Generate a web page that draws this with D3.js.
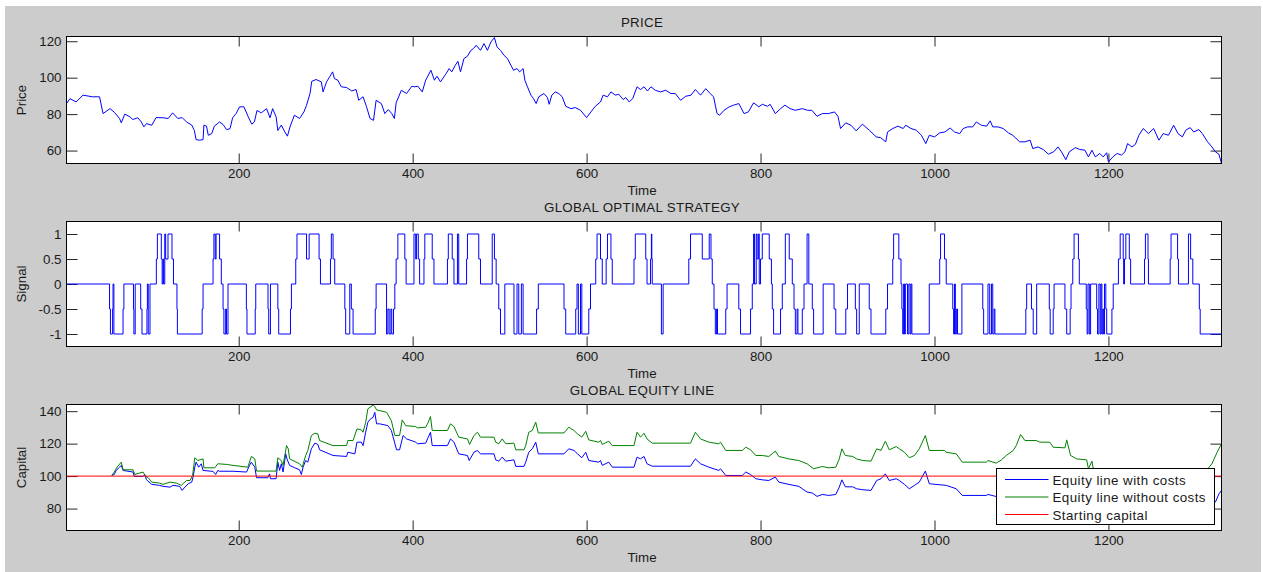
<!DOCTYPE html>
<html>
<head>
<meta charset="utf-8">
<script src="https://cdn.jsdelivr.net/npm/d3@7"></script>
<style>
  body { margin: 0; background: #fff; }
  text { font-family: "Liberation Sans", Arial, Helvetica, sans-serif; font-size: 13.33px; fill: #1a1a1a; }
</style>
</head>
<body>
<script>
const Width = 1263;
const Height = 572;

// tick values
const timeTicks = [200, 400, 600, 800, 1000, 1200];
const priceTicks = [60, 80, 100, 120];
const signalTicks = [-1, -0.5, 0, 0.5, 1];
const capitalTicks = [80, 100, 120, 140];

const legendLabels = ["Equity line with costs", "Equity line without costs", "Starting capital"];
const startingCapital = 100;

// price, [time, value]
const priceData = [
  [2,85.8],[6,88.5],[13,86.7],[21,90.4],[32,89.5],[40,89.5],[44,80.3],[52,83],[57,81],[63,77.6],[65,75.2],[69,80],
  [75,78.5],[78,77],[84,78],[88,75.7],[91,73],[94,74.8],[100,73.9],[105,78.1],[113,78],[119,77.6],[124,80.7],[130,77.6],
  [135,78.1],[140,75.7],[146,74],[149,71],[151,66],[155,65.7],[159,66],[160,74],[163,73.4],[165,68.4],[169,69.3],[172,73.4],
  [178,75.7],[182,74.3],[186,71.5],[190,72],[193,78],[197,80.3],[201,84],[206,84],[211,78.5],[215,74.5],[218,75.7],[221,82],
  [226,80.7],[232,83],[236,78],[239,83],[243,78.5],[245,71],[249,74],[253,70.2],[256,67.9],[259,73],[264,79.4],[270,77.6],
  [275,81.2],[278,84.9],[282,91.3],[284,98],[289,99],[295,97.7],[297,92.2],[301,97.7],[305,100.8],[308,103.2],[310,99.5],
  [314,98.6],[318,95],[324,94.6],[330,92.7],[335,93.5],[338,87.6],[343,89.5],[347,84],[351,77.6],[355,76.6],[358,87.6],
  [364,85.8],[368,80.3],[372,82.5],[376,80.3],[379,77.6],[381,86.2],[387,93.1],[393,91.3],[399,95.3],
  [402,95],[406,95.3],[411,92.2],[415,98.6],[421,104.1],[425,98.6],[428,100.8],[432,97.7],[438,101.9],[442,105],[445,103.2],
  [449,106.8],[452,109],[455,103.2],[459,110.5],[463,111.8],[467,115],[470,116],[473,117.8],[478,115],[482,118.7],[486,115],
  [490,119.6],[494,122],[497,116.9],[501,115],[505,112.3],[509,110.5],[513,106.8],[516,104.1],[520,105],[523,103.2],[527,105],
  [529,98.6],[532,95],[536,90.4],[539,88.5],[542,85.8],[545,89.5],[551,91.3],[555,89.1],[557,85.4],[560,90.4],[564,92.2],
  [568,91.3],[572,89.5],[576,84.3],[582,83],[587,83.6],[593,82.1],[600,78.1],[605,81.2],[610,84.3],[616,86.7],[619,90.4],
  [624,89.5],[628,92.2],[633,90.4],[637,90.9],[642,88],[645,89.1],[649,86.7],[653,88.5],[658,95],[662,93.5],[666,95],
  [670,92.7],[674,95],[679,93.1],[685,92.2],[691,93.1],[697,91.3],[702,91.3],[708,87.6],[714,89.8],[720,90.4],[725,93.5],
  [731,90.4],[737,94],[742,91.3],[746,89.5],[750,80.3],[753,79.4],[758,82.1],[764,84],[769,84.9],[775,85.8],[781,80.3],
  [786,81.2],[792,86.2],[798,84],[802,85.4],[808,84.3],[811,85.4],[817,80.3],[823,83],[828,84.9],[834,83],[840,82.1],
  [848,83],[854,82.1],[859,82.1],[865,78.8],[871,80.3],
  [878,80.3],[885,81.2],[889,78.8],[892,72.1],[898,75.2],[904,73.9],[910,70.8],[917,74.5],[925,71.2],[933,67.5],[938,67.1],
  [944,64.8],[946,70.2],[952,72.1],[958,73.4],[964,72.1],[967,73.9],[973,72.1],[979,71.2],[985,68.4],[990,63.8],[994,68.4],
  [1000,67.5],[1006,69.7],[1012,70.2],[1018,72.4],[1023,70.2],[1029,69.3],[1033,72.1],[1038,73],[1044,73],[1048,75.7],
  [1054,73.9],[1060,73.4],[1064,76.3],[1067,73],[1073,73],[1079,72.1],[1085,69.7],[1090,68.4],[1098,64.8],[1104,64.8],
  [1110,65.7],[1113,61.1],[1119,62],[1125,60.6],[1131,58],[1137,59.3],[1142,62],[1146,59.3],[1151,55],[1155,59.3],
  [1162,61.6],[1167,60.6],[1173,60.2],[1177,56.5],[1181,60.2],[1185,56.5],[1190,58.4],[1194,56.5],[1198,58.8],[1200,53.8],
  [1205,56.5],[1210,58.4],[1215,57.5],[1219,59.3],[1222,63.8],[1227,62],[1231,63.4],[1235,68.4],[1240,72.1],[1246,69.3],
  [1252,72.1],[1258,65.7],[1263,69.3],[1269,68.4],[1275,73.9],[1280,69.3],[1285,67.5],[1289,71.2],[1294,72.6],[1298,70.2],
  [1304,71.5],[1308,69.3],[1314,64.8],[1319,62],[1323,59.3],[1327,58],[1330,53]
];

// signal, [time, level] change points (step after)
const signalSteps = [
  [1,0],[51.5,-0.5],[52.5,-1],[55,-0.5],[55.5,0],[56.5,-1],[67,-0.5],[68,0],[79,-0.5],[79.5,-1],[81,0],[87.3,-0.5],[88.8,-1],
  [94.5,-0.5],[95,0],[96,-1],[98,0],[105.3,0.5],[106.5,1],[111,0.5],[112,0],[113,0.5],[113.7,0],[115,1],[116,0.5],[118.7,1],
  [123.3,0.5],[125,0],[129,-0.5],[129.5,-1],[158,-0.5],[159,0],[170.5,0.5],[171.5,1],[173,0.5],[174,1],[178,0.5],[180,0],
  [182,-0.5],[183,-1],[185,-0.5],[186,-1],[187.7,0],[208.8,-0.5],[209.5,-1],[219,-0.5],[219.6,0],[233.7,-0.5],[234.5,-1],
  [236.5,0],[245,-0.5],[246,-1],[259.5,-0.5],[260.6,0],[265.6,0.5],[267,1],[278,0.5],[281,1],[292.4,0.5],[294,0],
  [305.5,0.5],[306.5,1],[308.5,0.5],[310.4,0],[322,-0.5],[323,-1],[327.7,0],[329.5,-0.5],[331.5,-1],[357,-0.5],[358,0],
  [370,-1],[371.5,-0.5],[373,-1],[375,-0.5],[376,-1],[378,-0.5],[379.5,0],[381,0.5],[383,1],[391,0.5],[392.5,0],
  [401.5,1],[403.5,0.5],[404.5,1],[406.5,0.5],[408,0],[413,0.5],[414,1],[422.5,0.5],[424.5,0],[440,0.5],[441,1],[445.5,0.5],
  [447.5,0],[451.5,1],[453,0],[462,0.5],[463,1],[476,0.5],[478,0],[491.5,1],[494,0.5],[496,0],[499,-0.5],[501,-1],[506,0],
  [516.5,-1],[520,0],[522,-1],[525,0],[527,-1],[542.5,-0.5],[544.5,0],[574,-0.5],[576,-1],[587.5,-0.5],[589,0],[590.5,-1],
  [593,0],[594.5,-1],[602.5,-0.5],[604.5,0],[610.5,0.5],[612,1],[616,0.5],[618,0],[622.5,0.5],[624,1],[628,0.5],[629.5,0],
  [654.5,0.5],[656,1],[668,0.5],[669.5,0],[673.5,0.5],[674.5,1],[675,0.5],[675.5,0],[686,-1],[688,0],[717.5,0.5],[719.5,1],
  [733,0.5],[741,1],[743,0.5],[744.5,0],[746.5,-0.5],[748,-1],[749.5,-0.5],[750.5,-1],[760,-0.5],[761.5,0],[775,-0.5],
  [777,-1],[788.5,-0.5],[790.5,0],[792,1],[793,0],[795,1],[796,0.5],[797.5,1],[798.5,0],[800,0.5],[802,1],[810,0.5],
  [812.5,0],[813.5,-0.5],[815,-1],[823,-0.5],[825,0],[828.5,1],[833,0.5],[836.5,0],[838.5,-0.5],[840,-1],[842,-0.5],
  [843,-1],[848,-0.5],[850,0],[853.5,1],[855.5,0],[859.5,-0.5],[861,-1],[872,0],
  [884.5,-0.5],[886.5,-1],[898,-0.5],[900,0],[909,-0.5],[910.5,-1],[913.5,0],[925,-0.5],[927,-1],[944,-0.5],[946,0],
  [952,0.5],[953,1],[959,0.5],[961.5,0],[962.5,-0.5],[963.5,-1],[964.5,0],[965.5,-1],[966.5,0],[969,-1],[970.5,0],
  [972,-1],[973,0],[974,-1],[994,0],[1006,0.5],[1007,1],[1011.5,0.5],[1013.5,0],[1021,-0.5],[1022,-1],[1023,0],
  [1024,-1],[1025.5,-0.5],[1026.5,-1],[1031.5,0],[1055.5,-0.5],[1056.5,-1],[1061.5,0],[1063.5,-1],[1065.5,0],[1067,-1],
  [1068.5,-0.5],[1069.5,-1],[1105,-0.5],[1106,0],[1111.5,-0.5],[1113.5,-1],[1117.5,0],[1132,-0.5],[1133,-1],
  [1136.5,-0.5],[1137.5,0],[1150,-0.5],[1152,-1],[1156,-0.5],[1157,0],[1159,0.5],[1160.5,1],[1165.5,0.5],[1166.5,0],
  [1174.5,-0.5],[1175.5,-1],[1176.5,0],[1178,-1],[1179.5,0],[1186.5,-0.5],[1187.5,-1],[1189,0],[1190.5,-1],[1191.5,0],
  [1192.5,-1],[1193.5,-0.5],[1194.5,-1],[1195.5,0],[1197,-0.5],[1198,-1],[1204,-0.5],[1205.5,0],[1211.5,0.5],[1213.5,1],
  [1217,0.5],[1217.5,0],[1218.5,0.5],[1220,1],[1224,0.5],[1225.5,0],[1241.5,0.5],[1242.5,1],[1245.5,0.5],[1246,0],
  [1271,0.5],[1272,1],[1279.5,0.5],[1280.5,0],[1292,1],[1294.5,0.5],[1297,0],[1304.5,-0.5],[1305.5,-1],[1330,-1]
];

// equity line with costs, [time, capital]
const equityWithCosts = [
  [54,100.4],[57,101],[59,103.5],[63,105.5],[65,106.6],[67,103.5],[78.5,102.5],[80,99.8],[90,99.8],[92,101],[94,97.7],
  [100,94.9],[109,94.3],[113,93.7],[121,93.2],[124.5,94.3],[132,93.7],[135,91.2],[138,93.2],[142,95.3],[146,96.3],
  [147.5,99.4],[149.5,105.5],[151,108.6],[154,105.5],[157,107.6],[159,103.5],[170.5,102.9],[173.5,101],[176,103.5],
  [178,103],[193.5,103],[209,102.5],[212.5,106.6],[214.5,108.6],[218.5,105.5],[220.5,99],[233.5,99],[235.5,101.4],
  [236.5,98.4],[243,98.4],[245,108.6],[247,103.5],[249,107.6],[251,102.5],[254,113.7],[255.5,110.6],[258.5,106.6],
  [264.5,105.1],[270,103.9],[272,101],[274,105.5],[277,109.6],[279.5,108.6],[283.5,116.8],[287.5,120.3],[291,119.5],
  [293,116.2],[308.5,112.7],[324,112.1],[325.5,114.7],[333.5,113.7],[336,120.9],[341,120.9],[343,118.8],[346,127],
  [348.5,133.2],[351.5,135.2],[354.5,136.2],[356.5,139.3],[358.5,132.2],[362,132.2],[371.5,131.1],[375.5,128.1],
  [381.5,116.2],[385,116.2],[389,125],[393,122.9],[400.5,121.5],[403.5,120.9],[405.5,119.9],[415,120.3],[418,124],
  [420.5,127],[422.5,118.8],[440,118.8],[443.5,122.9],[447.5,120.9],[453,113.7],[463,112.7],[465,109.6],[470.5,114.7],
  [474.5,115.8],[478,113.7],[493.5,113.7],[495.5,110],[499,109.2],[503,111.7],[507,109.2],[516.5,110],[518.5,106],
  [528,106],[530,108.6],[533.5,114.7],[537.5,116.8],[541.5,120.9],[544.5,113.7],[574,113.7],[579.5,116.8],[585.5,115.8],
  [589.5,113.7],[594.5,111.3],[599,114.7],[602.5,109.6],[614,108.6],[616,109.6],[618,106.6],[625.5,108.6],[629.5,105.5],
  [654.5,105.5],[658,111.7],[662,110.6],[666,112.1],[669.5,107.6],[675.5,106.1],[719.5,106.1],[725,110.6],[731,107.6],
  [740.5,105.5],[752,103.5],[754,104.5],[760,100.4],[779,100.4],[783,102.5],[788.5,101],[794.5,98.4],[802,97.7],
  [809.5,97.3],[817,99.4],[821,96.3],[832.5,94.9],[844,93.7],[848,92.2],[853.5,90.2],[859.5,89.6],[865,87.5],[871,88.7],
  [878.5,88.1],[886.5,88.7],[890.5,93.2],[893.5,97.7],[897.5,93.4],[906,93.4],[910.5,92.2],[917.5,91.6],[927,91.2],
  [933.5,97.3],[938.5,98.4],[943.5,101.4],[948,97.3],[956,98.4],[959.5,97.3],[965.5,94.9],[971,92.2],[977,94.3],
  [982.5,96.3],[989.5,103.1],[994,95.3],[1013.5,94.3],[1025,92.2],[1032,88.1],[1059.5,88.1],[1061.5,88.7],[1070.5,87.5],
  [1077,89],[1083,91.5],[1090.5,94.5],[1094,97.5],[1099,103],[1104,100],[1117,100],[1121,99.5],[1132.5,99.5],
  [1136.5,96.5],[1150,96],[1152,100],[1156.5,91],[1163.5,89],[1175,88.5],[1177,83],[1181,87.5],[1183,82],[1186.5,82.5],
  [1200,80.5],[1230,80],[1260,80.5],[1290,80],[1315,81],[1323,84],[1327,89],[1330,91.2]
];

// equity line without costs, [time, capital]
const equityNoCosts = [
  [54,100.4],[57,102.5],[60,105.5],[65,108.6],[67,103.9],[78.5,103.9],[80.5,101],[90,102.5],[93,99.8],[96,99],[100,96.3],
  [109,95.7],[113,94.9],[121,96.3],[128.5,95.7],[134,94.3],[140,97.3],[144,97.3],[147,100.4],[149.5,111.3],[153,109.6],
  [159,110.6],[160,105.1],[172.5,105.1],[176,107.6],[186,107.2],[193.5,106.6],[210.5,105.5],[214.5,112.1],[218.5,110.6],
  [220.5,103.1],[243,103.1],[245,111.3],[249,109.6],[251,106.6],[255,118.8],[257,116.8],[258.5,110.6],[270,107.6],
  [273,105.5],[277,112.7],[279.5,115.8],[283.5,125],[287.5,126.4],[291,126],[293,121.9],[308.5,118.8],[324,118.8],
  [325.5,121.9],[331.5,121.9],[336,129.1],[341,128.5],[343,127],[346,133.2],[348.5,141.4],[354.5,143.8],[356.5,142.8],
  [358.5,140.8],[370,139.3],[375.5,134.2],[379.5,125],[385,125],[388,134.6],[392,131.1],[403.5,130.5],[405.5,129.7],
  [415,130.1],[418,133.2],[420.5,136.7],[422.5,128.1],[440,128.1],[443.5,132.2],[447.5,130.5],[453,124],[463,122.9],
  [465.5,119.5],[470.5,125],[474.5,127],[478,124],[493.5,124],[495.5,120.9],[499,119.9],[503,122.9],[507,119.9],
  [516.5,120.3],[518.5,116.2],[528,116.2],[530,118.8],[533.5,127],[537.5,128.1],[541.5,133.2],[544.5,126.6],[574,126.6],
  [579.5,130.1],[585.5,128.1],[589.5,126],[594.5,124],[599,127.6],[602.5,122.3],[614,120.9],[616,121.9],[618,119.5],
  [625.5,121.5],[629.5,118.8],[654.5,118.8],[658,127],[662,124],[666,126.4],[669.5,122.9],[675.5,120.3],[719.5,120.3],
  [725,127],[731,122.9],[740.5,120.9],[752,119.9],[754,120.9],[760,115.8],[779,115.8],[783,117.8],[788.5,116.2],
  [794.5,112.7],[802,112.7],[809.5,112.1],[817,115.4],[821,112.1],[832.5,110.6],[844,109.6],[853.5,107.6],[861,104.5],
  [871,105.9],[878.5,105.1],[886.5,105.5],[890.5,110.6],[893.5,116.8],[897.5,112.7],[906,112.1],[910.5,110.6],
  [917.5,109.6],[927,109.2],[933.5,116.8],[938.5,115.8],[943.5,121.5],[948,116.2],[956,118.2],[959.5,116.8],[965.5,114.7],
  [971,111.3],[977,112.7],[982.5,116.8],[989.5,125],[994,115.8],[1011.5,115.8],[1013.5,114.7],[1025,113.7],[1032,108.6],
  [1059.5,108.6],[1061.5,109.6],[1071,108],[1077,110],[1082.5,112.7],[1090.5,115.8],[1094,118.8],[1099,125.6],
  [1104,121.9],[1117,121.9],[1121,120.9],[1132.5,120.9],[1136.5,117.8],[1150,117.4],[1152,122.3],[1156.5,112.7],
  [1163.5,110.6],[1175,110],[1177,104.5],[1181,109.2],[1183,103.5],[1186.5,104.5],[1200,102],[1230,101.5],[1260,102],
  [1290,101.5],[1312,103],[1319,107.6],[1325,114.7],[1330,119.9]
];

const svg = d3.select('body')
  .append('svg')
    .attr('width', Width)
    .attr('height', Height);

// figure background
svg.append('rect')
  .attr('x', 5).attr('y', 6)
  .attr('width', Width - 7).attr('height', Height - 6)
  .attr('fill', '#cccccc');

const xScale = d3.scaleLinear()
  .domain([2, 1330])
  .range([66.5, 1221.5]);

const panels = [
  {title: 'PRICE', ylabel: 'Price', top: 36.5, bottom: 163.5, domain: [52.9, 122.6], ticks: priceTicks},
  {title: 'GLOBAL OPTIMAL STRATEGY', ylabel: 'Signal', top: 221.5, bottom: 346.5, domain: [-1.25, 1.25], ticks: signalTicks},
  {title: 'GLOBAL EQUITY LINE', ylabel: 'Capital', top: 404.5, bottom: 530.5, domain: [66.5, 144.1], ticks: capitalTicks}
];

const left = xScale.range()[0];
const right = xScale.range()[1];
const midX = 642;

const styleAxis = sel => {
  sel.select('.domain').remove();
  sel.selectAll('.tick line').attr('stroke', '#262626');
};

panels.forEach((p, i) => {
  p.y = d3.scaleLinear().domain(p.domain).range([p.bottom, p.top]);
  const g = svg.append('g');

  g.append('rect')
    .attr('x', left).attr('y', p.top)
    .attr('width', right - left).attr('height', p.bottom - p.top)
    .attr('fill', '#fff');

  g.append('clipPath').attr('id', 'clip' + i)
    .append('rect')
      .attr('x', left).attr('y', p.top)
      .attr('width', right - left).attr('height', p.bottom - p.top);

  g.append('g')
    .attr('transform', `translate(0,${p.bottom})`)
    .call(d3.axisBottom(xScale).tickValues(timeTicks).tickSize(-10).tickSizeOuter(0).tickPadding(5.3).tickFormat(d3.format('d')))
    .call(styleAxis);

  g.append('g')
    .attr('transform', `translate(0,${p.top})`)
    .call(d3.axisTop(xScale).tickValues(timeTicks).tickSize(-10).tickSizeOuter(0).tickFormat(''))
    .call(styleAxis);

  g.append('g')
    .attr('transform', `translate(${left},0)`)
    .call(d3.axisLeft(p.y).tickValues(p.ticks).tickSize(-11).tickSizeOuter(0).tickPadding(5).tickFormat(d => String(d)))
    .call(styleAxis);

  g.append('g')
    .attr('transform', `translate(${right},0)`)
    .call(d3.axisRight(p.y).tickValues(p.ticks).tickSize(-11).tickSizeOuter(0).tickFormat(''))
    .call(styleAxis);

  p.plot = g.append('g').attr('clip-path', `url(#clip${i})`);

  // title and labels
  g.append('text')
    .attr('x', midX).attr('y', p.top - 10)
    .attr('text-anchor', 'middle')
    .style('letter-spacing', '0.3px')
    .text(p.title);

  g.append('text')
    .attr('x', midX).attr('y', p.bottom + 31)
    .attr('text-anchor', 'middle')
    .text('Time');

  g.append('text')
    .attr('transform', `translate(25.5,${(p.top + p.bottom) / 2}) rotate(-90)`)
    .attr('text-anchor', 'middle')
    .text(p.ylabel);

  p.box = g;
});

const lineOf = (y, curve) => d3.line()
  .x(d => xScale(d[0]))
  .y(d => y(d[1]))
  .curve(curve || d3.curveLinear);

// price
panels[0].plot.append('path')
  .datum(priceData)
  .attr('fill', 'none')
  .attr('stroke', '#0000ff')
  .attr('stroke-width', 1)
  .attr('d', lineOf(panels[0].y));

// signal
panels[1].plot.append('path')
  .datum(signalSteps)
  .attr('fill', 'none')
  .attr('stroke', '#0000ff')
  .attr('stroke-width', 1)
  .attr('d', lineOf(panels[1].y, d3.curveStepAfter));

// equity
const eq = panels[2];
const series = [
  {data: equityWithCosts, color: '#0000ff'},
  {data: equityNoCosts, color: '#008000'},
  {data: [[xScale.domain()[0], startingCapital], [xScale.domain()[1], startingCapital]], color: '#ff0000'}
];

series.forEach(s => {
  eq.plot.append('path')
    .datum(s.data)
    .attr('fill', 'none')
    .attr('stroke', s.color)
    .attr('stroke-width', 1)
    .attr('d', lineOf(eq.y));
});

// axes boxes on top
panels.forEach(p => {
  svg.append('rect')
    .attr('x', left).attr('y', p.top)
    .attr('width', right - left).attr('height', p.bottom - p.top)
    .attr('fill', 'none')
    .attr('stroke', '#000')
    .attr('stroke-width', 1);
});

// legend
const legendG = svg.append('g')
  .attr('transform', 'translate(996.5, 468.5)');

legendG.append('rect')
  .attr('width', 218).attr('height', 56)
  .attr('fill', '#fff')
  .attr('stroke', '#000');

const legendItem = legendG.selectAll('.item')
  .data(legendLabels)
  .enter().append('g')
    .attr('class', 'item')
    .attr('transform', (d, i) => `translate(0, ${11 + i * 17.5})`);

legendItem.append('line')
  .attr('x1', 8.5).attr('x2', 52)
  .attr('stroke', (d, i) => series[i].color);

legendItem.append('text')
  .attr('x', 56)
  .attr('y', 5)
  .style('letter-spacing', '0.45px')
  .text(d => d);
</script>
</body>
</html>
